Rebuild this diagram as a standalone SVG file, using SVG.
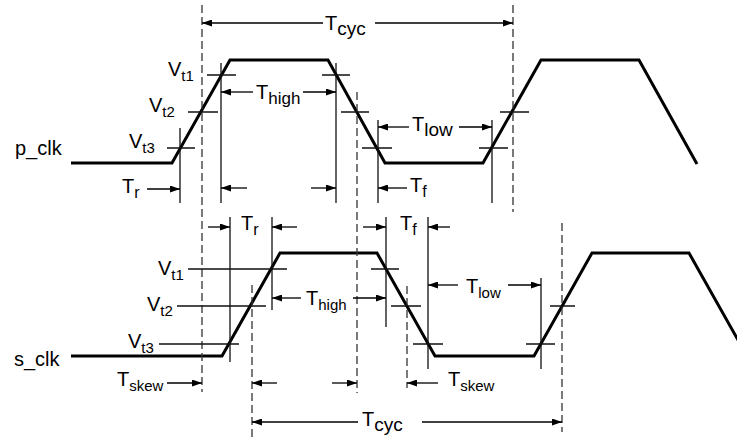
<svg xmlns="http://www.w3.org/2000/svg" width="737" height="438" viewBox="0 0 737 438">
<style>
.wave{fill:none;stroke:#000;stroke-width:3;stroke-linejoin:miter}
.thin{stroke:#111;stroke-width:1.3;fill:none}
.dash{stroke:#333;stroke-width:1.3;stroke-dasharray:8 4;fill:none}
.arr{stroke:#000;stroke-width:1.3;fill:none;marker-end:url(#ah)}
text{font-family:"Liberation Sans",Arial,sans-serif;font-size:20px;fill:#000}
.sub{font-size:15px}
.s16{font-size:16px}
.s17{font-size:17px}
.s19{font-size:19px}
</style>
<defs>
<marker id="ah" markerUnits="userSpaceOnUse" markerWidth="10" markerHeight="7" refX="10" refY="3.5" orient="auto">
<path d="M0,0 L10,3.5 L0,7 z" fill="#000"/>
</marker>
</defs>
<rect width="737" height="438" fill="#fff"/>
<g id="p_clk_wave">
<path class="wave" d="M71,163 L172,163 L230,60 L328,60 L385,163 L483,163 L541,60 L639,60 L697,164"/>
</g>
<g id="s_clk_wave">
<path class="wave" d="M71,356 L222,356 L280,253 L377,253 L435,356 L534,356 L592,253 L689,253 L747,356"/>
</g>
<g id="guides">
<path class="dash" d="M202,5 V392 M513,5 V212 M357,92 V393 M252,285 V438 M407,286 V388 M562,223 V432"/>
<path class="thin" d="M180,128 V203 M221,63 V203 M336,63 V203 M378,120 V203 M492,120 V203"/>
<path class="thin" d="M207,75 H236 M188,112 H218 M167,148 H195 M322,75 H350 M341,112 H369 M362,148 H392 M479,148 H508 M500,112 H529"/>
<path class="thin" d="M230,217 V362 M272,217 V310 M386,217 V327 M428,217 V369 M541,278 V369"/>
<path class="thin" d="M188,269 H287 M177,306 H266 M159,344 H239 M371,269 H399 M391,306 H421 M413,344 H443 M526,344 H555 M550,306 H575"/>
</g>
<g id="connectors">
<line class="arr" x1="323" y1="23" x2="202" y2="23"/>
<line class="arr" x1="375" y1="23" x2="513" y2="23"/>
<line class="arr" x1="147" y1="189" x2="180" y2="189"/>
<line class="arr" x1="253" y1="92" x2="221" y2="92"/>
<line class="arr" x1="303" y1="92" x2="336" y2="92"/>
<line class="arr" x1="247" y1="188" x2="221" y2="188"/>
<line class="arr" x1="311" y1="188" x2="336" y2="188"/>
<line class="arr" x1="409" y1="127" x2="378" y2="127"/>
<line class="arr" x1="459" y1="127" x2="492" y2="127"/>
<line class="arr" x1="407" y1="188" x2="378" y2="188"/>
<line class="arr" x1="208" y1="227" x2="230" y2="227"/>
<line class="arr" x1="297" y1="227" x2="272" y2="227"/>
<line class="arr" x1="363" y1="227" x2="386" y2="227"/>
<line class="arr" x1="450" y1="227" x2="428" y2="227"/>
<line class="arr" x1="301" y1="298" x2="272" y2="298"/>
<line class="arr" x1="353" y1="298" x2="386" y2="298"/>
<line class="arr" x1="458" y1="285" x2="428" y2="285"/>
<line class="arr" x1="508" y1="285" x2="541" y2="285"/>
<line class="arr" x1="167" y1="383" x2="202" y2="383"/>
<line class="arr" x1="277" y1="383" x2="252" y2="383"/>
<line class="arr" x1="332" y1="383" x2="357" y2="383"/>
<line class="arr" x1="438" y1="383" x2="407" y2="383"/>
<line class="arr" x1="358" y1="422" x2="252" y2="422"/>
<line class="arr" x1="422" y1="422" x2="562" y2="422"/>
</g>
<g id="labels">
<text x="15" y="155">p_clk</text>
<text x="14" y="366">s_clk</text>
<text x="325" y="30">T<tspan class="s19" dy="5">cyc</tspan></text>
<text x="168" y="76">V<tspan class="sub" dy="5">t1</tspan></text>
<text x="149" y="112">V<tspan class="sub" dy="5">t2</tspan></text>
<text x="129" y="148">V<tspan class="sub" dy="5">t3</tspan></text>
<text x="122" y="193">T<tspan class="s16" dy="5">r</tspan></text>
<text x="256" y="99">T<tspan class="s17" dy="5">high</tspan></text>
<text x="412" y="131">T<tspan class="s19" dy="5">low</tspan></text>
<text x="410" y="192">T<tspan class="s16" dy="5">f</tspan></text>
<text x="241" y="230">T<tspan class="s16" dy="5">r</tspan></text>
<text x="400" y="230">T<tspan class="s16" dy="5">f</tspan></text>
<text x="158" y="275">V<tspan class="sub" dy="5">t1</tspan></text>
<text x="147" y="311">V<tspan class="sub" dy="5">t2</tspan></text>
<text x="128" y="348">V<tspan class="sub" dy="5">t3</tspan></text>
<text x="306" y="305">T<tspan class="sub" dy="5">high</tspan></text>
<text x="466" y="293">T<tspan class="sub" dy="5">low</tspan></text>
<text x="117" y="386">T<tspan class="sub" dy="5">skew</tspan></text>
<text x="448" y="386">T<tspan class="sub" dy="5">skew</tspan></text>
<text x="362" y="426">T<tspan class="s19" dy="5">cyc</tspan></text>
</g>
</svg>
